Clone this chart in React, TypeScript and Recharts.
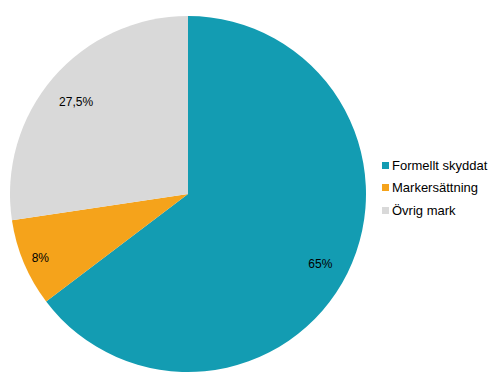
import { PieChart, Pie, Cell, Legend } from "recharts";

const categories = ["Formellt skyddat", "Markersättning", "Övrig mark"];
const shares = [65, 8, 27.5];
const labels = ["65%", "8%", "27,5%"];
const colors = ["#139CB2", "#F5A31B", "#D9D9D9"];

const data = categories.map((name, i) => ({ name, value: shares[i], label: labels[i] }));

const RAD = Math.PI / 180;

function SliceLabel(props: any) {
  const { cx, cy, midAngle, outerRadius, index } = props;
  const r = outerRadius * (index === 1 ? 0.9 : 0.83);
  const x = cx + r * Math.cos(-midAngle * RAD);
  const y = cy + r * Math.sin(-midAngle * RAD) + (index === 1 ? 1.5 : 4.5);
  return (
    <text
      x={x}
      y={y}
      textAnchor="middle"
      dominantBaseline="central"
      fill="#000"
      fontFamily="Liberation Sans, Arial, sans-serif"
      fontSize={12}
    >
      {data[index].label}
    </text>
  );
}

function LegendBox() {
  return (
    <div style={{ fontFamily: "Liberation Sans, Arial, sans-serif", fontSize: 13, color: "#000" }}>
      {data.map((d, i) => (
        <div key={d.name} style={{ display: "flex", alignItems: "center", height: 22.5 }}>
          <span style={{ width: 7, height: 7, background: colors[i], marginRight: 3 }} />
          <span>{d.name}</span>
        </div>
      ))}
    </div>
  );
}

export default function App() {
  return (
    <div style={{ position: "absolute", left: 0, top: 0, width: 496, height: 379, background: "#fff" }}>
      <PieChart width={496} height={379} margin={{ top: 0, right: 0, bottom: 0, left: 0 }}>
        <Pie
          data={data}
          dataKey="value"
          nameKey="name"
          cx={188}
          cy={194}
          outerRadius={178}
          startAngle={90}
          endAngle={-270}
          stroke="none"
          label={SliceLabel}
          labelLine={false}
          isAnimationActive={false}
        >
          {data.map((d, i) => (
            <Cell key={d.name} fill={colors[i]} />
          ))}
        </Pie>
        <Legend
          content={<LegendBox />}
          wrapperStyle={{ position: "absolute", left: 382, top: 154, width: 114 }}
        />
      </PieChart>
    </div>
  );
}
